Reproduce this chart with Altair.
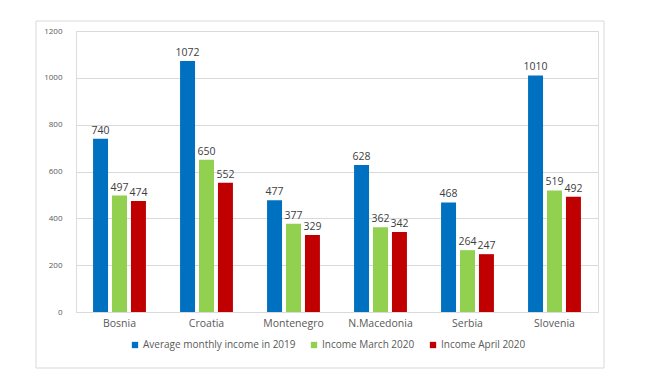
import altair as alt
import pandas as pd

countries = ["Bosnia", "Croatia", "Montenegro", "N.Macedonia", "Serbia", "Slovenia"]
series = ["Average monthly income in 2019", "Income March 2020", "Income April 2020"]
avg_2019 = [740, 1072, 477, 628, 468, 1010]
march_2020 = [497, 650, 377, 362, 264, 519]
april_2020 = [474, 552, 329, 342, 247, 492]
colors = ["#0070C0", "#92D050", "#C00000"]

rows = []
for i, c in enumerate(countries):
    for s, vals in zip(series, [avg_2019, march_2020, april_2020]):
        rows.append({"country": c, "series": s, "value": vals[i]})
df = pd.DataFrame(rows)

FONT = "Open Sans"

base = alt.Chart(df).encode(
    x=alt.X("country:N", sort=countries, title=None,
            scale=alt.Scale(paddingInner=0, paddingOuter=0),
            axis=alt.Axis(labelAngle=0, ticks=False, domain=True, domainColor="#d9d9d9",
                          labelColor="#595959", labelFontSize=10.5, labelFont=FONT,
                          labelPadding=6)),
    xOffset=alt.XOffset("series:N", sort=series,
                        scale=alt.Scale(paddingInner=0.21, paddingOuter=0.9)),
    y=alt.Y("value:Q", title=None,
            scale=alt.Scale(domain=[0, 1200]),
            axis=alt.Axis(values=[0, 200, 400, 600, 800, 1000, 1200], ticks=False,
                          format="d", domain=False, gridColor="#d9d9d9",
                          labelColor="#595959", labelFontSize=8, labelFont=FONT,
                          labelPadding=14)),
)

bars = base.mark_bar().encode(
    color=alt.Color("series:N", sort=series,
                    scale=alt.Scale(domain=series, range=colors),
                    legend=alt.Legend(title=None, orient="none", direction="horizontal",
                                      legendX=54, legendY=309, symbolType="square",
                                      symbolSize=40, symbolStrokeWidth=0,
                                      labelFontSize=10, labelFont=FONT, labelLimit=0,
                                      labelColor="#595959", columnPadding=13,
                                      symbolOffset=0, labelOffset=3))
)

labels = base.mark_text(dy=-5, baseline="alphabetic", fontSize=10.5, font=FONT,
                        color="#404040").encode(text="value:Q")

border = alt.Chart(pd.DataFrame({"a": [0]})).mark_rect(
    fill=None, stroke="#d9d9d9", strokeWidth=1
).encode(x=alt.value(-40), x2=alt.value(528), y=alt.value(-10), y2=alt.value(337))

chart = alt.layer(border, bars, labels).properties(
    width=522, height=281,
    autosize=alt.AutoSizeParams(type="none"),
    padding={"left": 68, "top": 23, "right": 55, "bottom": 62},
).configure_view(stroke=None).configure(background="white")

chart.save("out.html", embed_options={"renderer": "svg", "actions": False})
